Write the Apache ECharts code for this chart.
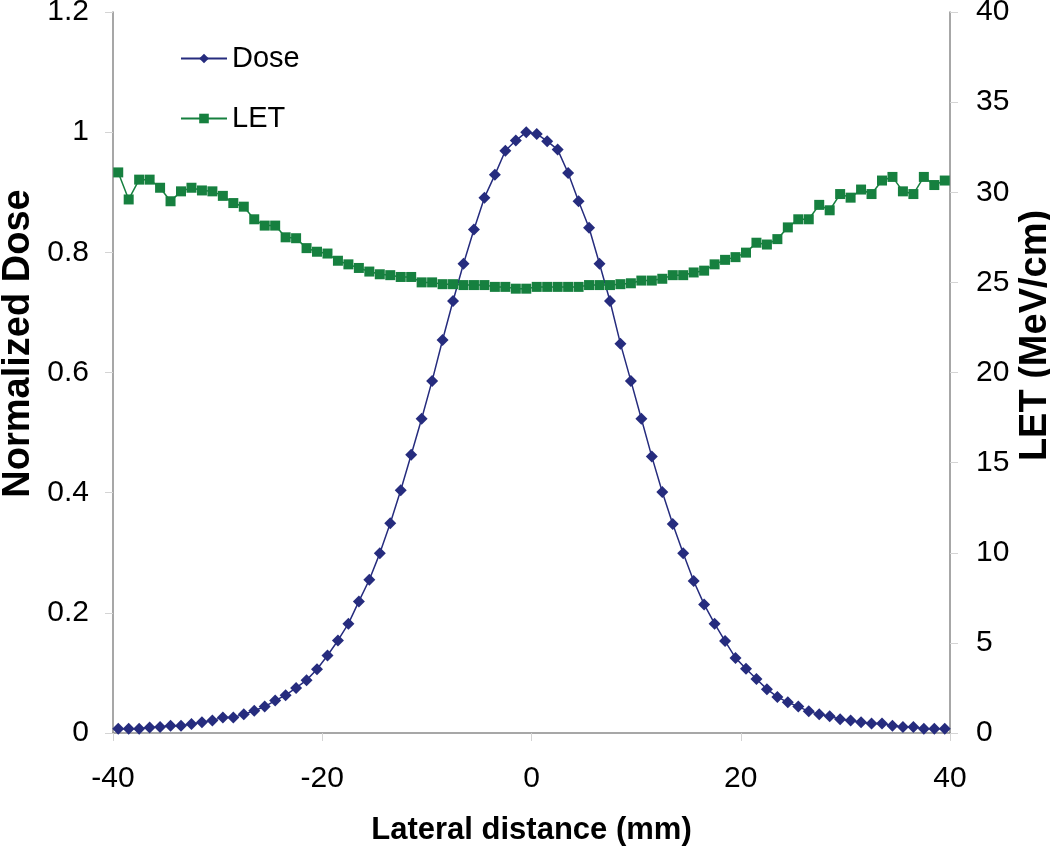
<!DOCTYPE html>
<html>
<head>
<meta charset="utf-8">
<script src="https://cdn.jsdelivr.net/npm/echarts@6/dist/echarts.min.js"></script>
<style>
html,body{margin:0;padding:0;background:#fff;}
#chart{width:1050px;height:849px;}
</style>
</head>
<body>
<div id="chart"></div>
<script>
var positions = [-39.5,-38.5,-37.5,-36.5,-35.5,-34.5,-33.5,-32.5,-31.5,-30.5,
  -29.5,-28.5,-27.5,-26.5,-25.5,-24.5,-23.5,-22.5,-21.5,-20.5,
  -19.5,-18.5,-17.5,-16.5,-15.5,-14.5,-13.5,-12.5,-11.5,-10.5,
  -9.5,-8.5,-7.5,-6.5,-5.5,-4.5,-3.5,-2.5,-1.5,-0.5,
  0.5,1.5,2.5,3.5,4.5,5.5,6.5,7.5,8.5,9.5,
  10.5,11.5,12.5,13.5,14.5,15.5,16.5,17.5,18.5,19.5,
  20.5,21.5,22.5,23.5,24.5,25.5,26.5,27.5,28.5,29.5,
  30.5,31.5,32.5,33.5,34.5,35.5,36.5,37.5,38.5,39.5];

var doseValues = [0.007,0.007,0.007,0.009,0.010,0.012,0.012,0.015,0.018,0.021,
  0.026,0.026,0.031,0.037,0.044,0.054,0.063,0.075,0.088,0.106,
  0.129,0.154,0.182,0.219,0.255,0.299,0.349,0.404,0.463,0.523,
  0.586,0.654,0.719,0.781,0.838,0.891,0.929,0.969,0.986,1.000,
  0.997,0.985,0.971,0.932,0.885,0.841,0.781,0.719,0.648,0.586,
  0.523,0.460,0.401,0.348,0.299,0.253,0.214,0.182,0.153,0.125,
  0.107,0.090,0.073,0.060,0.051,0.044,0.036,0.031,0.028,0.023,
  0.021,0.018,0.016,0.016,0.012,0.010,0.010,0.007,0.007,0.007];

var letValues = [31.1,29.6,30.7,30.7,30.25,29.5,30.05,30.25,30.1,30.05,
  29.8,29.4,29.2,28.5,28.15,28.15,27.5,27.45,26.9,26.7,
  26.6,26.2,26.0,25.8,25.6,25.45,25.4,25.3,25.3,25.0,
  25.0,24.9,24.9,24.85,24.85,24.85,24.75,24.75,24.65,24.65,
  24.75,24.75,24.75,24.75,24.75,24.85,24.85,24.85,24.9,24.95,
  25.1,25.1,25.2,25.4,25.4,25.55,25.65,26.0,26.25,26.4,
  26.65,27.2,27.1,27.4,28.05,28.5,28.5,29.3,29.0,29.9,
  29.7,30.15,29.9,30.65,30.85,30.05,29.9,30.85,30.4,30.65];

var seriesNames = ['Dose', 'LET'];
var xTitle = 'Lateral distance (mm)';
var yLeftTitle = 'Normalized Dose';
var yRightTitle = 'LET (MeV/cm)';

function pairs(xs, ys) {
  var out = [];
  for (var i = 0; i < xs.length; i++) out.push([xs[i], ys[i]]);
  return out;
}

var FONT = '"Liberation Sans", Arial, sans-serif';
var axisLineColor = '#8a8a8a';
var tickColor = '#d4d4d4';

var chart = echarts.init(document.getElementById('chart'), null, {renderer: 'canvas'});
chart.setOption({
  animation: false,
  backgroundColor: '#ffffff',
  textStyle: {fontFamily: FONT},
  grid: {left: 113, right: 100, top: 12, bottom: 116, containLabel: false, outerBoundsMode: 'none'},
  legend: {
    orient: 'vertical',
    left: 175,
    top: 39,
    itemWidth: 46,
    itemHeight: 12,
    itemGap: 31,
    textStyle: {fontFamily: FONT, fontSize: 29, color: '#000'},
    data: seriesNames
  },
  xAxis: {
    type: 'value',
    min: -40, max: 40, interval: 20,
    name: xTitle,
    nameLocation: 'middle',
    nameGap: 82,
    nameMoveOverlap: false,
    nameTextStyle: {fontFamily: FONT, fontSize: 31, fontWeight: 'bold', color: '#000'},
    axisLine: {show: true, onZero: false, lineStyle: {color: axisLineColor, width: 1.5}},
    axisTick: {show: true, inside: false, length: 8, lineStyle: {color: tickColor, width: 1}},
    axisLabel: {fontFamily: FONT, fontSize: 30, color: '#000', margin: 31},
    splitLine: {show: false}
  },
  yAxis: [{
    type: 'value',
    position: 'left',
    min: 0, max: 1.2, interval: 0.2,
    name: yLeftTitle,
    nameLocation: 'middle',
    nameRotate: 90,
    nameGap: 75,
    nameMoveOverlap: false,
    nameTextStyle: {fontFamily: FONT, fontSize: 38, fontWeight: 'bold', color: '#000', padding: [0, 0, 0, 58]},
    axisLine: {show: true, onZero: false, lineStyle: {color: axisLineColor, width: 1.5}},
    axisTick: {show: true, inside: false, length: 8, lineStyle: {color: tickColor, width: 1}},
    axisLabel: {fontFamily: FONT, fontSize: 30, color: '#000', margin: 24},
    splitLine: {show: false}
  }, {
    type: 'value',
    position: 'right',
    min: 0, max: 40, interval: 5,
    name: yRightTitle,
    nameLocation: 'middle',
    nameRotate: 90,
    nameGap: 67,
    nameMoveOverlap: false,
    nameTextStyle: {fontFamily: FONT, fontSize: 38, fontWeight: 'bold', color: '#000', padding: [0, 0, 0, 74]},
    axisLine: {show: true, onZero: false, lineStyle: {color: axisLineColor, width: 1.5}},
    axisTick: {show: true, inside: false, length: 8, lineStyle: {color: tickColor, width: 1}},
    axisLabel: {fontFamily: FONT, fontSize: 30, color: '#000', margin: 26, align: 'left'},
    splitLine: {show: false}
  }],
  series: [{
    name: seriesNames[0],
    type: 'line',
    yAxisIndex: 0,
    data: pairs(positions, doseValues),
    symbol: 'diamond',
    symbolSize: 12,
    showAllSymbol: true,
    itemStyle: {color: '#262c7e'},
    lineStyle: {color: '#262c7e', width: 1.5},
    z: 2
  }, {
    name: seriesNames[1],
    type: 'line',
    yAxisIndex: 1,
    data: pairs(positions, letValues),
    symbol: 'rect',
    symbolSize: 10,
    showAllSymbol: true,
    itemStyle: {color: '#16803f'},
    lineStyle: {color: '#16803f', width: 1.5},
    z: 3
  }]
});
</script>
</body>
</html>
